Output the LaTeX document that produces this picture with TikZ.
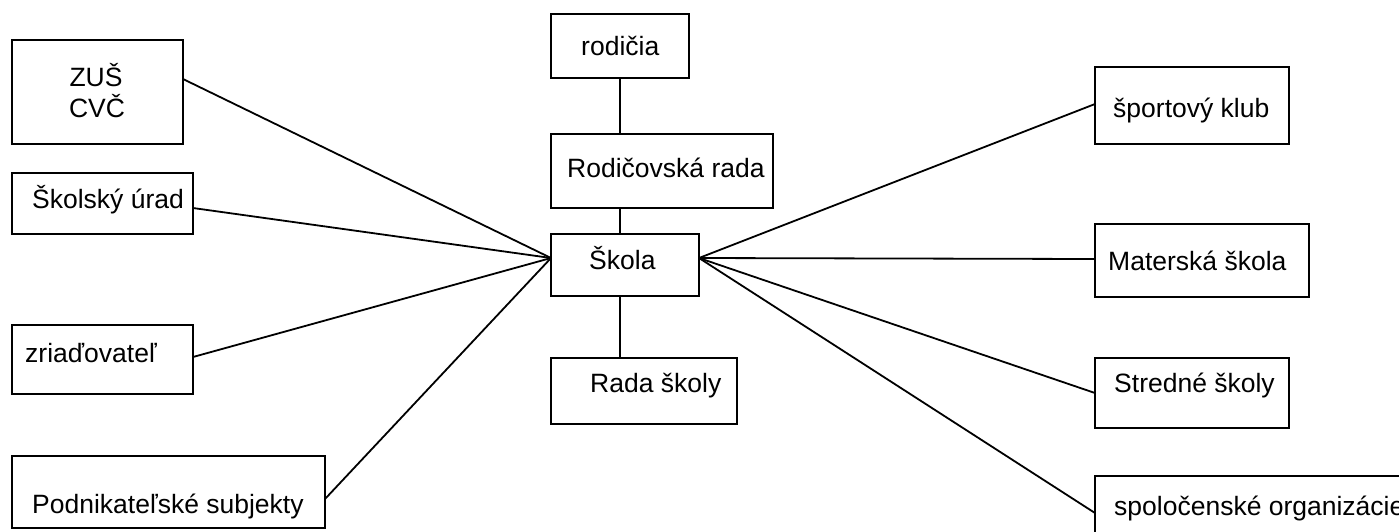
\documentclass[tikz,border=0pt]{standalone}
\usepackage{fontspec}
\setmainfont{Liberation Sans}
\begin{document}
\begin{tikzpicture}[x=1pt,y=-1pt,
  box/.style={draw, line width=1.8pt, rectangle, inner sep=0pt, outer sep=0pt},
  lbl/.style={anchor=base west, inner sep=0pt, font=\fontsize{26.5}{31}\selectfont},
  clbl/.style={anchor=base, inner sep=0pt, font=\fontsize{26.5}{31}\selectfont},
  conn/.style={line width=1.8pt}]
\useasboundingbox (0,0) rectangle (1399,531);
\clip (0,0) rectangle (1399,531);
% boxes
\node[box, minimum width=171pt, minimum height=104pt] (zus) at (97.5,92) {};
\node[box, minimum width=181pt, minimum height=61pt] (skurad) at (102.5,203.5) {};
\node[box, minimum width=181pt, minimum height=69pt] (zriad) at (102.5,359.5) {};
\node[box, minimum width=313pt, minimum height=72pt] (podnik) at (168.5,492) {};
\node[box, minimum width=138pt, minimum height=64pt] (rodicia) at (620,46) {};
\node[box, minimum width=222pt, minimum height=74pt] (rrada) at (662,171) {};
\node[box, minimum width=148pt, minimum height=62pt] (skola) at (625,265) {};
\node[box, minimum width=186pt, minimum height=66pt] (rada) at (644,391) {};
\node[box, minimum width=194pt, minimum height=77pt] (sport) at (1192,105.5) {};
\node[box, minimum width=214pt, minimum height=73pt] (mat) at (1202,260.5) {};
\node[box, minimum width=194pt, minimum height=70pt] (stred) at (1192,393) {};
\node[box, minimum width=335pt, minimum height=74pt] (spol) at (1262.5,513) {};
% labels
\node[clbl] (zusT1) at (96,86) {ZUŠ};
\node[clbl] (zusT2) at (97,117) {CVČ};
\node[lbl] (skuradT) at (32,208) {Školský úrad};
\node[lbl] (zriadT) at (25,362) {zriaďovateľ};
\node[lbl] (podnikT) at (32,513) {Podnikateľské subjekty};
\node[lbl] (rodiciaT) at (581,55) {rodičia};
\node[lbl] (rradaT) at (567,177) {Rodičovská rada};
\node[lbl] (skolaT) at (589,269) {Škola};
\node[lbl] (radaT) at (590,392) {Rada školy};
\node[lbl] (sportT) at (1113,117) {športový klub};
\node[lbl] (matT) at (1108,270) {Materská škola};
\node[lbl] (stredT) at (1114,392) {Stredné školy};
\node[lbl] (spolT) at (1114,515) {spoločenské organizácie};
% connectors
\draw[conn] (rodicia.south) -- (rodicia.south |- rrada.north);
\draw[conn] (rrada.south -| rodicia.south) -- (skola.north -| rodicia.south);
\draw[conn] (skola.south -| rodicia.south) -- (rada.north -| rodicia.south);
\draw[conn] ([yshift=13pt]zus.east) -- ([yshift=7pt]skola.west);
\draw[conn] ([yshift=-4.5pt]skurad.east) -- ([yshift=7pt]skola.west);
\draw[conn] ([yshift=2.5pt]zriad.east) -- ([yshift=7pt]skola.west);
\draw[conn] ([yshift=-7pt]podnik.east) -- ([yshift=7pt]skola.west);
\draw[conn] ([yshift=1.5pt]sport.west) -- ([yshift=7pt]skola.east);
\draw[conn] ([yshift=1.5pt]mat.west) -- ([yshift=7pt]skola.east);
\draw[conn] (stred.west) -- ([yshift=7pt]skola.east);
\draw[conn] (spol.west) -- ([yshift=7pt]skola.east);
\end{tikzpicture}
\end{document}
